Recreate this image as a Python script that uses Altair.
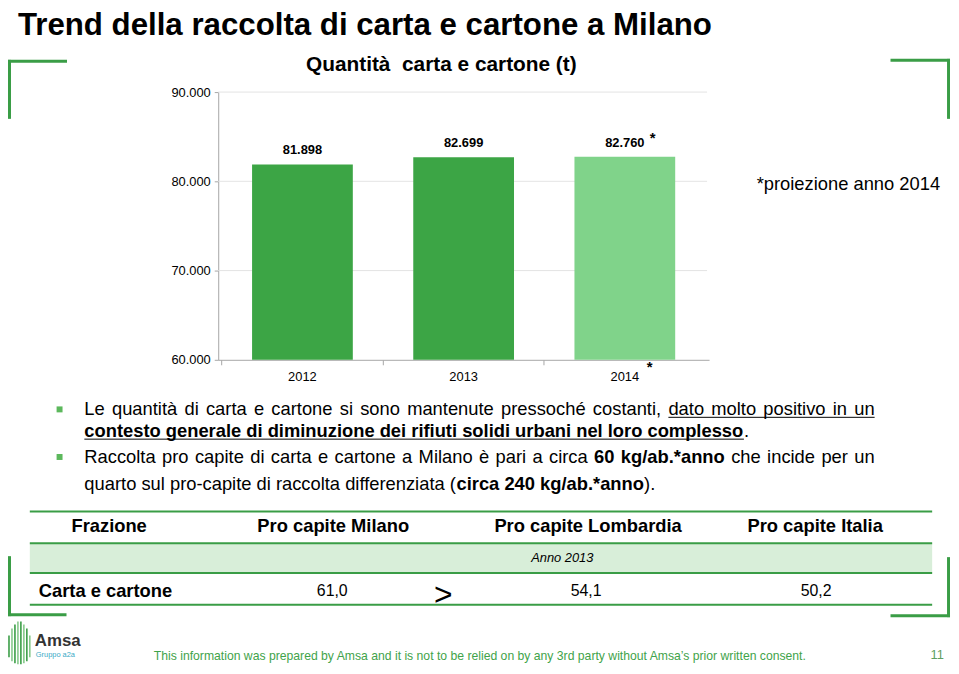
import altair as alt
import pandas as pd

# ---------------- data ----------------
years = ["2012", "2013", "2014"]
tonnes = [81898, 82699, 82760]
bar_labels = ["81.898", "82.699", "82.760"]
bar_notes = ["", "", "*"]
bar_kind = ["consuntivo", "consuntivo", "proiezione"]
y_ticks = [60000, 70000, 80000, 90000]
grid_values = [70000, 80000, 90000]

table_header = ["Frazione", "Pro capite Milano", "Pro capite Lombardia", "Pro capite Italia"]
table_year = "Anno 2013"
row_label = "Carta e cartone"
row_values = ["61,0", "54,1", "50,2"]

# bullet text: (word, bold, underlined)
line1 = [(w, False, i >= 11) for i, w in enumerate(
    "Le quantit\u00e0 di carta e cartone si sono mantenute pressoch\u00e9 costanti, "
    "dato molto positivo in un".split(" "))]
line2_bold = "contesto generale di diminuzione dei rifiuti solidi urbani nel loro complesso"
line3 = ([(w, False, False) for w in
          "Raccolta pro capite di carta e cartone a Milano \u00e8 pari a circa".split(" ")]
         + [("60", True, False), ("kg/ab.*anno", True, False)]
         + [(w, False, False) for w in "che incide per un".split(" ")])
line4 = [("quarto sul pro-capite di raccolta differenziata (", False),
         ("circa 240 kg/ab.*anno", True), (").", False)]

# ---------------- style / layout ----------------
W, H = 951, 660
FONT = "Liberation Sans, Arial, Helvetica, sans-serif"
GREEN = "#3a9d46"
DARK_BAR = "#3ca545"
LIGHT_BAR = "#80d38a"
AXIS_GREY = "#a6a6a6"

Y_TOP, Y_BOT = 82, 352
X_LEFT, X_RIGHT = 212, 707

# Arial / Liberation Sans advance widths (1/1000 em), used to lay out mixed-style text
REG = {" ": 278, ",": 278, ".": 278, "(": 333, ")": 333, "*": 389, "/": 278, "-": 333,
       "a": 556, "b": 556, "c": 500, "d": 556, "e": 556, "f": 278, "g": 556, "h": 556,
       "i": 222, "j": 222, "k": 500, "l": 222, "m": 833, "n": 556, "o": 556, "p": 556,
       "q": 556, "r": 333, "s": 500, "t": 278, "u": 556, "v": 500, "w": 722, "x": 500,
       "y": 500, "z": 500, "L": 556, "R": 722, "M": 833,
       "\u00e0": 556, "\u00e8": 556, "\u00e9": 556}
BOLD = {" ": 278, ",": 278, ".": 278, "(": 333, ")": 333, "*": 389, "/": 278, "-": 333,
        "a": 556, "b": 611, "c": 556, "d": 611, "e": 556, "f": 333, "g": 611, "h": 611,
        "i": 278, "j": 278, "k": 556, "l": 278, "m": 889, "n": 611, "o": 611, "p": 611,
        "q": 611, "r": 389, "s": 556, "t": 333, "u": 611, "v": 556, "w": 778, "x": 556,
        "y": 556, "z": 500}
for d in "0123456789":
    REG[d] = 556
    BOLD[d] = 556


def tw(s, bold, size):
    table = BOLD if bold else REG
    return sum(table.get(c, 556) for c in s) * size / 1000.0


bars_df = pd.DataFrame({"year": years, "value": tonnes, "label": bar_labels,
                        "note": bar_notes, "kind": bar_kind})
grid_df = pd.DataFrame({"value": grid_values})
one = pd.DataFrame({"k": [0]})

x_scale = alt.Scale(domain=years, range=[X_LEFT, X_RIGHT], paddingInner=0.375, paddingOuter=0.21)
y_scale = alt.Scale(domain=[60000, 90000], range=[Y_BOT, Y_TOP], nice=False, zero=False)

x_axis = alt.Axis(title=None, orient="bottom", offset=-(H - Y_BOT), domainColor=AXIS_GREY,
                  domainWidth=1, tickColor=AXIS_GREY, tickSize=5, bandPosition=-0.30,
                  labelFont=FONT, labelFontSize=13, labelColor="#000000", labelPadding=6,
                  labelAngle=0, grid=False)
y_axis = alt.Axis(title=None, orient="left", offset=-X_LEFT, values=y_ticks,
                  labelExpr="replace(format(datum.value, ','), ',', '.')",
                  domainColor=AXIS_GREY, domainWidth=1, tickColor=AXIS_GREY, tickSize=4,
                  labelPadding=4, labelFont=FONT, labelFontSize=13, labelColor="#000000",
                  grid=False)

X = alt.X("year:N", scale=x_scale, axis=x_axis, sort=years)
Y = alt.Y("value:Q", scale=y_scale, axis=y_axis)

grid = alt.Chart(grid_df).mark_rule(color="#e4e4e4", strokeWidth=1).encode(
    y=Y, x=alt.value(X_LEFT), x2=alt.value(705))

bars = alt.Chart(bars_df).mark_bar().encode(
    x=X, y=Y, y2=alt.datum(60000),
    color=alt.Color("kind:N", scale=alt.Scale(domain=["consuntivo", "proiezione"],
                                              range=[DARK_BAR, LIGHT_BAR]), legend=None))

bar_text = alt.Chart(bars_df).mark_text(dy=-14, fontSize=13, fontWeight="bold", font=FONT,
                                        color="#000000").encode(x=X, y=Y, text="label:N")
bar_star = alt.Chart(bars_df).mark_text(dx=28, dy=-19, fontSize=15, fontWeight="bold", font=FONT,
                                        color="#000000").encode(x=X, y=Y, text="note:N")
axis_star = alt.Chart(bars_df).mark_text(dx=25, dy=7, fontSize=15, fontWeight="bold", font=FONT,
                                         color="#000000").encode(
    x=X, y=Y, text="note:N").transform_calculate(value="60000")


def label(text, x, y, size, weight="normal", color="#000000", align="left",
          baseline="middle", style="normal", font=FONT):
    return alt.Chart(one).mark_text(text=text, fontSize=size, fontWeight=weight, color=color,
                                    align=align, baseline=baseline, fontStyle=style,
                                    font=font).encode(x=alt.value(x), y=alt.value(y))


def hline(x1, x2, y, color=GREEN, width=2):
    return alt.Chart(one).mark_rule(color=color, strokeWidth=width).encode(
        x=alt.value(x1), x2=alt.value(x2), y=alt.value(y))


def vline(x, y1, y2, color=GREEN, width=3):
    return alt.Chart(one).mark_rule(color=color, strokeWidth=width).encode(
        x=alt.value(x), y=alt.value(y1), y2=alt.value(y2))


def box(x1, x2, y1, y2, color):
    return alt.Chart(one).mark_rect(color=color).encode(
        x=alt.value(x1), x2=alt.value(x2), y=alt.value(y1), y2=alt.value(y2))


layers = [grid, bars, bar_text, bar_star, axis_star]

# titles
layers.append(label("Trend della raccolta di carta e cartone a Milano", 10, 24, 31.5, "bold",
                    baseline="alphabetic"))
layers.append(label("Quantit\u00e0\u00a0 carta e cartone (t)", 437, 55, 21, "bold", align="center"))
layers.append(label("*proiezione anno 2014", 755, 175, 18.5))

# corner brackets
layers += [hline(0, 59.5, 51, width=3), vline(1.5, 49.5, 109),
           hline(890, 950, 50, width=3), vline(948.5, 48.5, 109),
           vline(1.5, 550, 610.5), hline(0, 59, 609, width=3),
           hline(890, 950, 610, width=3), vline(948.5, 551, 611.5)]

# bullet paragraphs
BSZ = 18.5
TL, TR = 77, 874
layers += [box(49, 55, 399, 405, "#5cb85c"), box(49, 55, 447, 453, "#5cb85c")]


def justified(words, y):
    out = []
    total = sum(tw(w, b, BSZ) for w, b, _ in words)
    gap = (TR - TL - total) / (len(words) - 1)
    x = TL
    ul_start = None
    for w, b, u in words:
        out.append(label(w, x, y, BSZ, "bold" if b else "normal", baseline="alphabetic"))
        if u and ul_start is None:
            ul_start = x
        x += tw(w, b, BSZ) + gap
    if ul_start is not None:
        out.append(hline(ul_start, TR, y + 2, color="#000000", width=1))
    return out


L1, L2, L3, L4 = 408, 430, 456, 483
layers += justified(line1, L1)
w2 = tw(line2_bold, True, BSZ)
layers.append(label(line2_bold, TL, L2, BSZ, "bold", baseline="alphabetic"))
layers.append(hline(TL, TL + w2, L2 + 2, color="#000000", width=1))
layers.append(label(".", TL + w2, L2, BSZ, baseline="alphabetic"))
layers += justified(line3, L3)
x = TL
for seg, b in line4:
    layers.append(label(seg, x, L4, BSZ, "bold" if b else "normal", baseline="alphabetic"))
    x += tw(seg, b, BSZ)

# table
TX1, TX2 = 22, 932
layers += [box(TX1, TX2, 537, 567, "#d8eed9"),
           hline(TX1, TX2, 505), hline(TX1, TX2, 537), hline(TX1, TX2, 567), hline(TX1, TX2, 599)]
for text, cx in zip(table_header, [102, 328, 585, 814]):
    layers.append(label(text, cx, 520, 18.5, "bold", align="center"))
layers.append(label(table_year, 559, 552, 13, style="italic", align="center"))
layers.append(label(row_label, 31, 585, 18.5, "bold"))
for text, cx in zip(row_values, [327, 583, 815]):
    layers.append(label(text, cx, 585, 16, align="center"))
layers.append(label(">", 439, 589, 32, align="center"))

# footer and logo
layers.append(label("This information was prepared by Amsa and it is not to be relied on by any 3rd "
                    "party without Amsa\u2019s prior written consent.", 147, 651, 12.3,
                    color="#3fa34a"))
layers.append(label("11", 937, 650, 13, color="#5f9f62", align="center"))
stripe_x = [1, 4, 7, 10, 13, 16, 19, 22]
stripe_top = [630, 623, 619, 616, 616, 619, 623, 630]
stripe_bot = [652, 656, 658, 659, 659, 658, 656, 652]
for i, (sx, st, sb) in enumerate(zip(stripe_x, stripe_top, stripe_bot)):
    layers.append(vline(sx, st, sb, color="#3a9d46" if i % 2 == 0 else "#86c98a", width=1.6))
layers.append(label("Amsa", 27, 636, 17, "bold", color="#333333"))
layers.append(label("Gruppo a2a", 28, 650, 7.5, color="#3aaac6"))

chart = alt.layer(*layers).properties(
    width=W, height=H, padding=0, autosize="none", background="white"
).configure_view(stroke=None)

chart.save("out.html", embed_options={"renderer": "svg", "actions": False})
